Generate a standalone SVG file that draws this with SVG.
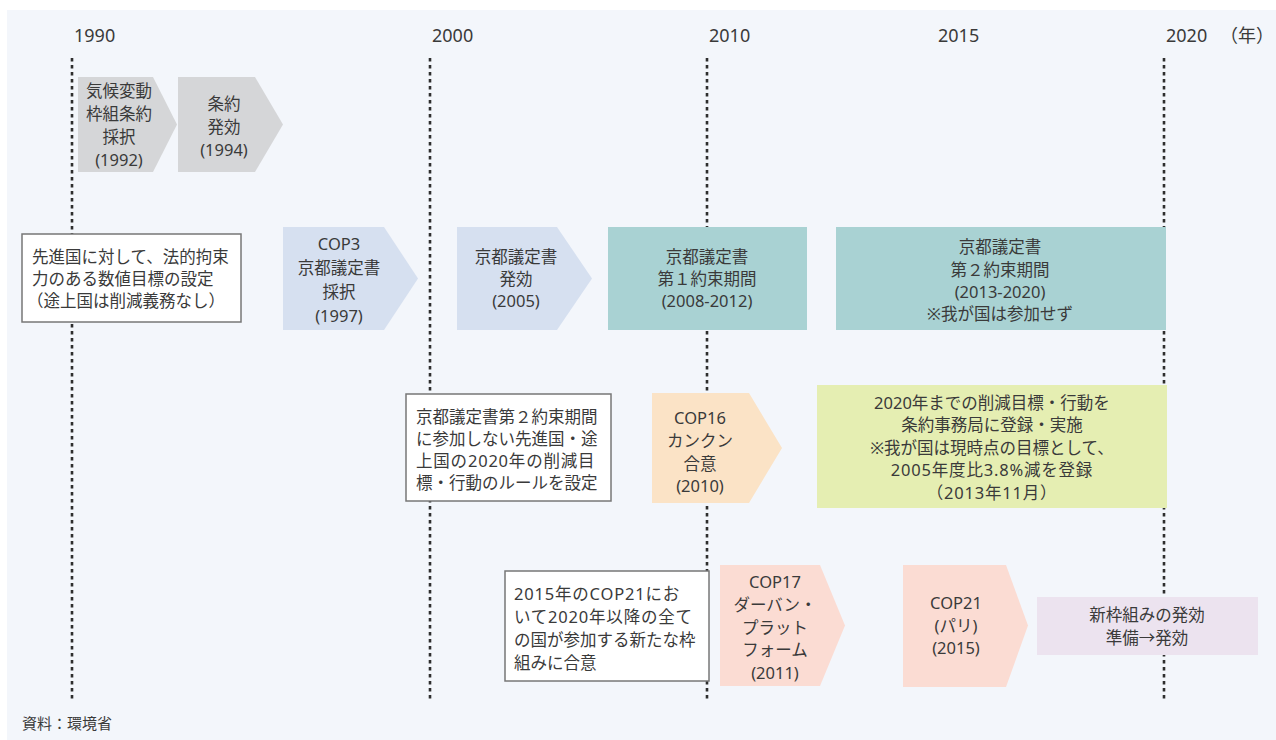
<svg xmlns="http://www.w3.org/2000/svg" width="1276" height="740" viewBox="0 0 1276 740">
<style>
text{font-family:"Noto Sans","Noto Sans CJK JP",sans-serif;fill:#3a3a3a;font-size:16.5px}
.c{text-anchor:middle}
.yr{font-size:18px}
.sp{letter-spacing:0.8px}
.grid{stroke:#2e2e2e;stroke-width:2.6;stroke-dasharray:3.5 3.5;fill:none}
.note{fill:#fff;stroke:#777;stroke-width:1.5}
</style>
<rect x="0" y="0" width="1276" height="740" fill="#fff"/>
<rect x="7" y="10" width="1269" height="730" fill="#f3f6fb"/>
<g id="axis">
<text class="yr" x="74" y="42">1990</text>
<text class="yr" x="432" y="42">2000</text>
<text class="yr" x="709" y="42">2010</text>
<text class="yr" x="938" y="42">2015</text>
<text class="yr" x="1166" y="42">2020</text>
<text class="yr" x="1220" y="42">（年）</text>
</g>
<g id="connectors">
<line class="grid" x1="72" y1="58" x2="72" y2="702"/>
<line class="grid" x1="430" y1="58" x2="430" y2="702"/>
<line class="grid" x1="707" y1="58" x2="707" y2="702"/>
<line class="grid" x1="1164" y1="58" x2="1164" y2="702"/>
</g>
<g id="n-unfccc">
<path d="M78 77H153L177 124.5L153 172H78Z" fill="#d5d6d8"/>
<text class="c" x="119" y="97">気候変動</text>
<text class="c" x="119" y="120">枠組条約</text>
<text class="c" x="119" y="143">採択</text>
<text class="c" x="119" y="166">(1992)</text>
</g>
<g id="n-unfccc-effect">
<path d="M178 77H255L283 124.5L255 172H178Z" fill="#d5d6d8"/>
<text class="c" x="224" y="110">条約</text>
<text class="c" x="224" y="133">発効</text>
<text class="c" x="224" y="156">(1994)</text>
</g>
<g id="n-note1">
<rect class="note" x="22" y="234" width="219" height="88"/>
<text x="32" y="263">先進国に対して、法的拘束</text>
<text x="32" y="285">力のある数値目標の設定</text>
<text x="27" y="307">（途上国は削減義務なし）</text>
</g>
<g id="n-cop3">
<path d="M283 227H384L418 278.5L384 330H283Z" fill="#d6e0f0"/>
<text class="c" x="339" y="250">COP3</text>
<text class="c" x="339" y="274">京都議定書</text>
<text class="c" x="339" y="298">採択</text>
<text class="c" x="339" y="322">(1997)</text>
</g>
<g id="n-kp-effect">
<path d="M457 227H557L592 278.5L557 330H457Z" fill="#d6e0f0"/>
<text class="c" x="516" y="263">京都議定書</text>
<text class="c" x="516" y="285">発効</text>
<text class="c" x="516" y="307">(2005)</text>
</g>
<g id="n-kp1">
<rect x="608" y="227" width="199" height="103" fill="#a9d2d3"/>
<text class="c" x="707" y="263">京都議定書</text>
<text class="c" x="707" y="285">第１約束期間</text>
<text class="c" x="707" y="307">(2008-2012)</text>
</g>
<g id="n-kp2">
<rect x="836" y="227" width="330" height="103" fill="#a9d2d3"/>
<text class="c" x="1000" y="253">京都議定書</text>
<text class="c" x="1000" y="276">第２約束期間</text>
<text class="c" x="1000" y="298">(2013-2020)</text>
<text class="c" x="1000" y="320">※我が国は参加せず</text>
</g>
<g id="n-note2">
<rect class="note" x="406" y="394" width="205" height="107"/>
<text x="416" y="423">京都議定書第２約束期間</text>
<text x="416" y="445">に参加しない先進国・途</text>
<text class="sp" x="416" y="467">上国の2020年の削減目</text>
<text x="416" y="489">標・行動のルールを設定</text>
</g>
<g id="n-cop16">
<path d="M652 393H749L782 448L749 503H652Z" fill="#fbe3c6"/>
<text class="c" x="700" y="424">COP16</text>
<text class="c" x="700" y="447">カンクン</text>
<text class="c" x="700" y="470">合意</text>
<text class="c" x="700" y="492">(2010)</text>
</g>
<g id="n-pledge">
<rect x="817" y="385" width="350" height="123" fill="#e5eeb2"/>
<text class="c" x="992" y="409">2020年までの削減目標・行動を</text>
<text class="c" x="992" y="431">条約事務局に登録・実施</text>
<text class="c" x="992" y="454">※我が国は現時点の目標として、</text>
<text class="c sp" x="992" y="476">2005年度比3.8%減を登録</text>
<text class="c sp" x="992" y="499">（2013年11月）</text>
</g>
<g id="n-note3">
<rect class="note" x="505" y="571" width="204" height="110"/>
<text class="sp" x="514" y="600">2015年のCOP21にお</text>
<text class="sp" x="514" y="623">いて2020年以降の全て</text>
<text x="514" y="646">の国が参加する新たな枠</text>
<text x="514" y="669">組みに合意</text>
</g>
<g id="n-cop17">
<path d="M720 565H820L845 625.5L820 686H720Z" fill="#fbdcd3"/>
<text class="c" x="775" y="588">COP17</text>
<text class="c" x="775" y="611">ダーバン・</text>
<text class="c" x="775" y="634">プラット</text>
<text class="c" x="775" y="656">フォーム</text>
<text class="c" x="775" y="679">(2011)</text>
</g>
<g id="n-cop21">
<path d="M903 565H1006L1028 625.5L1006 687H903Z" fill="#fbdcd3"/>
<text class="c" x="956" y="609">COP21</text>
<text class="c" x="956" y="632">(パリ)</text>
<text class="c" x="956" y="654">(2015)</text>
</g>
<g id="n-new">
<rect x="1037" y="597" width="221" height="58" fill="#ece3ef"/>
<text class="c" x="1147" y="621">新枠組みの発効</text>
<text class="c" x="1147" y="644">準備→発効</text>
</g>
<g id="source">
<text x="22" y="729" style="font-size:15px">資料：環境省</text>
</g>
</svg>
